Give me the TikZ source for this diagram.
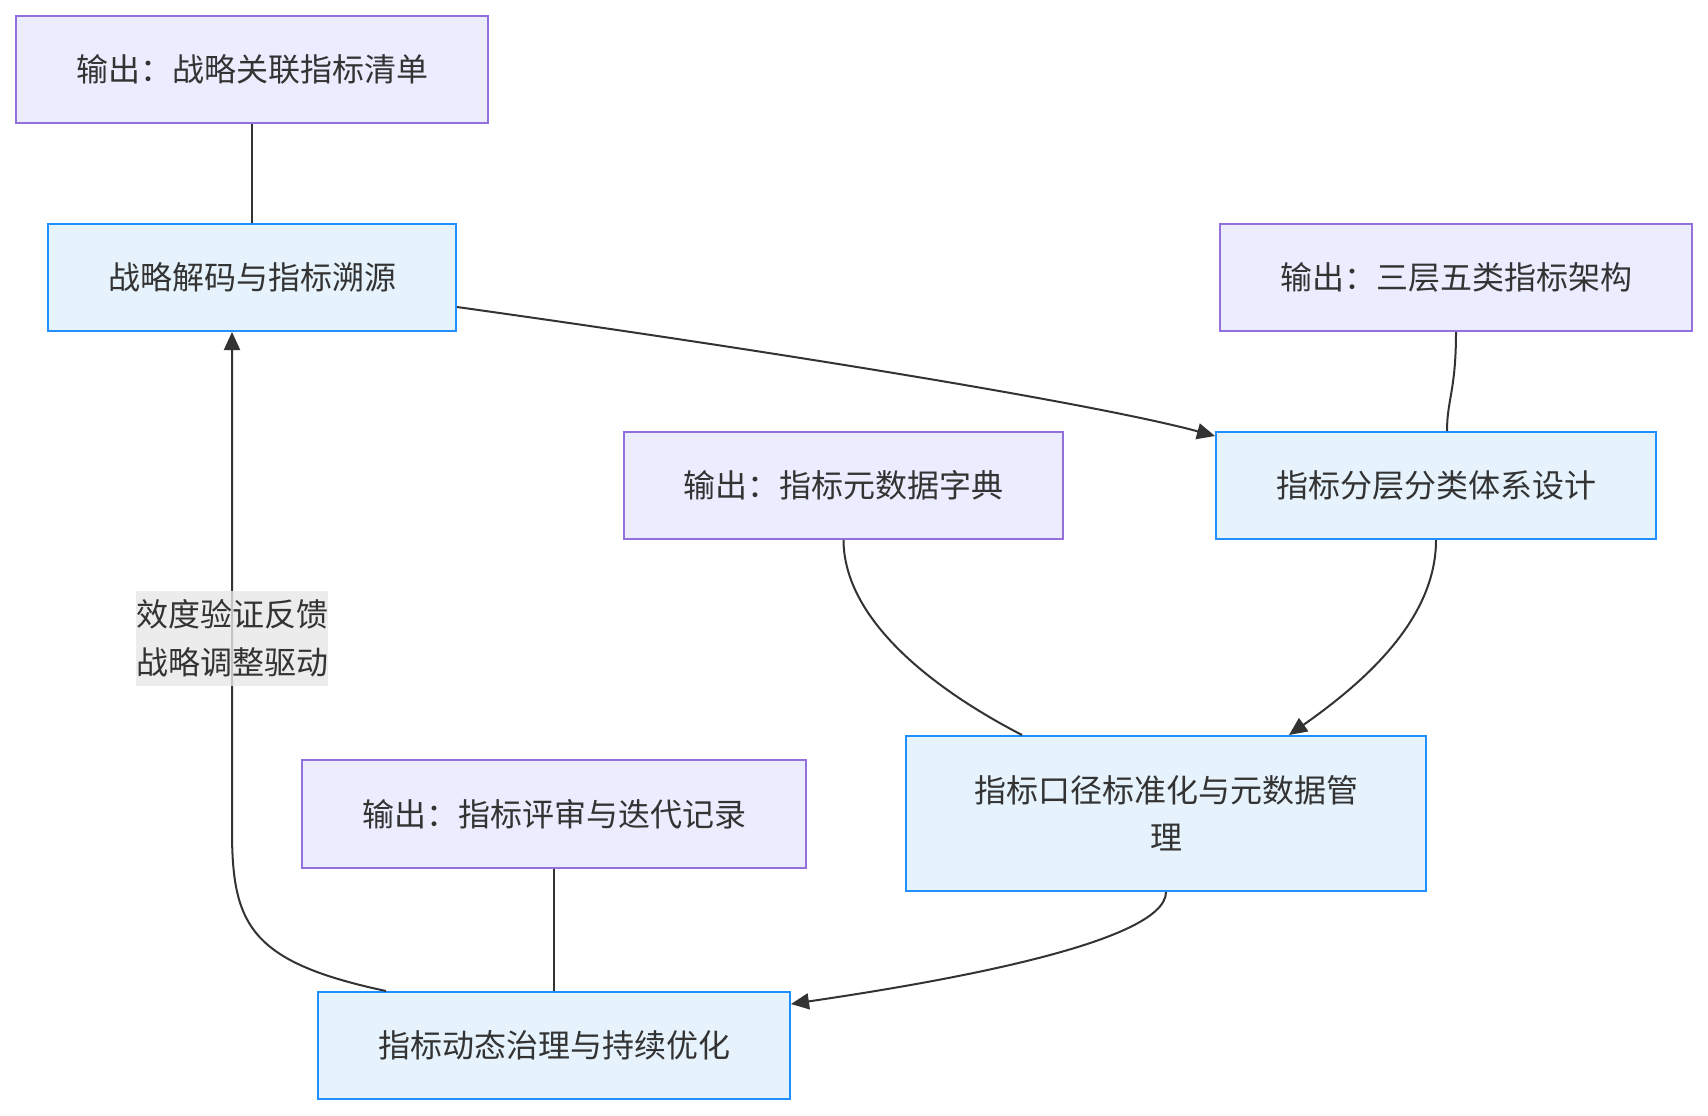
\documentclass[tikz,border=0pt]{standalone}
\usepackage{fontspec}
\setmainfont{Noto Sans CJK SC}
\usetikzlibrary{arrows.meta}
\definecolor{outfill}{HTML}{ECECFF}
\definecolor{outdraw}{HTML}{9370DB}
\definecolor{procfill}{HTML}{E6F3FD}
\definecolor{procdraw}{HTML}{1E90FF}
\definecolor{ink}{HTML}{333333}
\definecolor{lblbg}{HTML}{E8E8E8}
\begin{document}
\begin{tikzpicture}[x=1pt,y=-1pt,
  base/.style={rectangle, line width=2pt, inner sep=0pt, text=ink, align=center,
    font=\fontsize{32}{47}\selectfont},
  outbox/.style={base, fill=outfill, draw=outdraw},
  procbox/.style={base, fill=procfill, draw=procdraw},
  conn/.style={draw=ink, line width=2pt},
  arr/.style={conn, -{Triangle[length=18pt,width=16pt]}},
  lbl/.style={fill=lblbg, fill opacity=0.8, text opacity=1, text=ink, inner sep=0pt,
    align=center, font=\fontsize{32}{48}\selectfont}
]
\useasboundingbox (0,0) rectangle (1708,1116);
\fill[white] (0,0) rectangle (1708,1116);

\node[outbox, minimum width=472pt, minimum height=107pt] (o1) at (252,69.5) {输出：战略关联指标清单};
\node[procbox, minimum width=408pt, minimum height=107pt] (b1) at (252,277.5) {战略解码与指标溯源};
\node[outbox, minimum width=472pt, minimum height=107pt] (o2) at (1456,277.5) {输出：三层五类指标架构};
\node[procbox, minimum width=440pt, minimum height=107pt] (b2) at (1436,485.5) {指标分层分类体系设计};
\node[outbox, minimum width=439pt, minimum height=107pt] (o3) at (843.5,485.5) {输出：指标元数据字典};
\node[procbox, minimum width=520pt, minimum height=155pt] (b3) at (1166,813.5) {指标口径标准化与元数据管\\理};
\node[outbox, minimum width=504pt, minimum height=108pt] (o4) at (554,814) {输出：指标评审与迭代记录};
\node[procbox, minimum width=472pt, minimum height=107pt] (b4) at (554,1045.5) {指标动态治理与持续优化};

% connectors
\draw[conn] (o1.south) -- (b1.north);
\draw[arr] ([yshift=-29.5pt]b1.east) .. controls (800,355) and (1100,405) .. ([yshift=49.5pt]b2.west);
\draw[conn] (o2.south) .. controls (1456,390) and (1447,400) .. ([xshift=11pt]b2.north);
\draw[arr] (b2.south) .. controls (1436,620) and (1363,683) .. ([xshift=123pt]b3.north);
\draw[conn] (o3.south) .. controls (844,620) and (933,689) .. ([xshift=-144pt]b3.north);
\draw[arr] (b3.south) .. controls (1166,945) and (920,985) .. ([yshift=41.5pt]b4.east);
\draw[conn] (o4.south) -- (b4.north);
\draw[arr] ([xshift=-168pt]b4.north) .. controls (250,962) and (232,925) .. (232,830) -- ([xshift=-20pt]b1.south);

\node[lbl, minimum width=192pt, minimum height=95pt] (l1) at (232,638) {效度验证反馈\\战略调整驱动};
\end{tikzpicture}
\end{document}
